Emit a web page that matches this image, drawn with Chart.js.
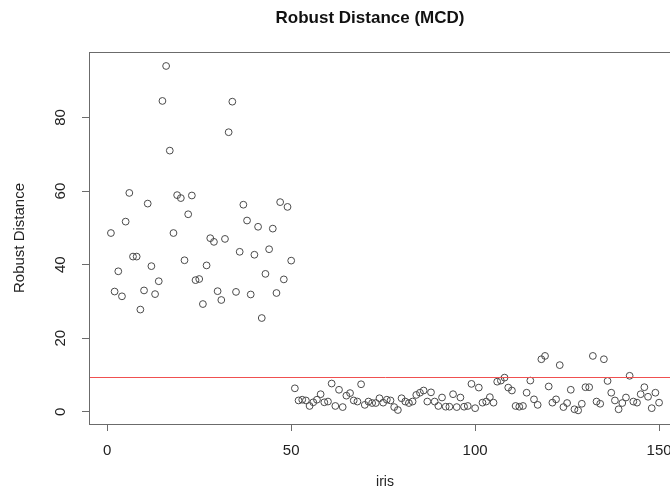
<!DOCTYPE html>
<html>
<head>
<meta charset="utf-8">
<script src="https://cdn.jsdelivr.net/npm/chart.js@4.4.1/dist/chart.umd.min.js"></script>
<style>
  html, body { margin: 0; padding: 0; background: #fff; overflow: hidden; }
  #wrap { width: 740px; height: 491px; }
</style>
</head>
<body>
<div id="wrap"><canvas id="chartMCD"></canvas></div>
<script>
const distFirst = [
  48.6, 32.7, 38.2, 31.4, 51.7, 59.5, 42.2, 42.2, 27.8, 33.0,
  56.6, 39.6, 32.0, 35.5, 84.5, 94.0, 71.0, 48.6, 58.9, 58.1,
  41.2, 53.7, 58.8, 35.8, 36.1, 29.3, 39.8, 47.2, 46.2, 32.8,
  30.4, 47.0, 76.0, 84.3, 32.6, 43.5, 56.3, 52.0, 31.9, 42.7,
  50.3, 25.5, 37.5, 44.2, 49.8, 32.3, 57.0, 36.0, 55.7, 41.1
];
const distSecond = [
  6.4, 3.1, 3.3, 3.1, 1.6, 2.6, 3.3, 4.8, 2.6, 2.8,
  7.7, 1.6, 6.0, 1.3, 4.4, 5.1, 3.1, 2.8, 7.5, 1.9,
  2.8, 2.4, 2.4, 3.7, 2.5, 3.3, 3.1, 1.3, 0.5, 3.7,
  2.8, 2.4, 2.8, 4.6, 5.2, 5.8, 2.8, 5.3, 2.8, 1.6,
  3.9, 1.4, 1.4, 4.8, 1.3, 3.9, 1.4, 1.6, 7.6, 1.0
];
const distThird = [
  6.6, 2.5, 2.8, 4.0, 2.5, 8.2, 8.5, 9.3, 6.6, 5.8,
  1.6, 1.4, 1.6, 5.2, 8.5, 3.4, 1.9, 14.3, 15.2, 6.9,
  2.5, 3.4, 12.7, 1.3, 2.4, 6.0, 0.7, 0.4, 2.2, 6.7,
  6.7, 15.2, 2.8, 2.2, 14.3, 8.4, 5.2, 3.1, 0.7, 2.4,
  3.9, 9.8, 2.8, 2.5, 4.8, 6.7, 4.1, 1.0, 5.2, 2.5
];
const robustDist = distFirst.concat(distSecond, distThird);
const cutoff = 9.5;

const xTicks = [0, 50, 100, 150];
const yTicks = [0, 20, 40, 60, 80];

const points = robustDist.map((v, i) => ({ x: i + 1, y: v }));

const axisGray = '#6b6b6b';
const textColor = '#222';
Chart.defaults.font.family = "'Liberation Sans', Arial, sans-serif";
Chart.defaults.color = textColor;

// R-style box round the plot region plus the red abline
const rBox = {
  id: 'rBox',
  afterDatasetsDraw(chart) {
    const { ctx, chartArea: a, scales } = chart;
    const yc = Math.round(scales.y.getPixelForValue(cutoff)) + 0.5;
    ctx.save();
    ctx.strokeStyle = axisGray;
    ctx.lineWidth = 1;
    ctx.strokeRect(Math.round(a.left) + 0.5, Math.round(a.top) + 0.5,
      Math.round(a.right - a.left), Math.round(a.bottom - a.top));
    ctx.restore();

    ctx.save();
    ctx.beginPath();
    ctx.strokeStyle = '#f05050';
    ctx.lineWidth = 1;
    ctx.moveTo(a.left + 1, yc);
    ctx.lineTo(a.right, yc);
    ctx.stroke();
    ctx.restore();
  }
};

new Chart(document.getElementById('chartMCD'), {
  type: 'scatter',
  data: {
    datasets: [{
      label: 'Robust Distance',
      data: points,
      pointStyle: 'circle',
      pointRadius: 3.4,
      borderWidth: 1,
      borderColor: '#4a4a4a',
      backgroundColor: 'rgba(0,0,0,0)',
    }]
  },
  options: {
    responsive: true,
    maintainAspectRatio: false,
    animation: false,
    layout: { padding: 0 },
    plugins: {
      legend: { display: false },
      tooltip: { enabled: false },
      title: {
        display: true,
        text: 'Robust Distance (MCD)',
        color: '#111',
        font: { size: 17, weight: 'bold' },
        padding: { top: 8, bottom: 23.6 },
      },
    },
    scales: {
      x: {
        type: 'linear',
        min: -4.96,
        max: 155.96,
        afterBuildTicks: s => { s.ticks = xTicks.map(v => ({ value: v })); },
        afterFit: s => { s.height = 67; },
        grid: { drawOnChartArea: false, color: axisGray, tickLength: 7 },
        border: { display: false },
        ticks: { padding: 11, color: textColor, font: { size: 15 }, maxRotation: 0 },
        title: { display: true, text: 'iris', color: textColor, font: { size: 14 }, padding: { top: 1, bottom: 0 } },
      },
      y: {
        type: 'linear',
        min: -3.3,
        max: 97.8,
        afterBuildTicks: s => { s.ticks = yTicks.map(v => ({ value: v })); },
        afterFit: s => { s.width = 89; },
        grid: { drawOnChartArea: false, color: axisGray, tickLength: 7 },
        border: { display: false },
        ticks: { padding: 13, crossAlign: 'center', color: textColor, font: { size: 15 }, minRotation: 90, maxRotation: 90 },
        title: { display: true, text: 'Robust Distance', color: textColor, font: { size: 15 }, padding: { top: 11, bottom: 0 } },
      },
      // empty right margin, as in the R device
      yRight: {
        type: 'linear',
        position: 'right',
        min: 0,
        max: 1,
        afterFit: s => { s.width = 59; },
        grid: { display: false },
        border: { display: false },
        ticks: { display: false },
      },
    },
  },
  plugins: [rBox],
});
</script>
</body>
</html>
